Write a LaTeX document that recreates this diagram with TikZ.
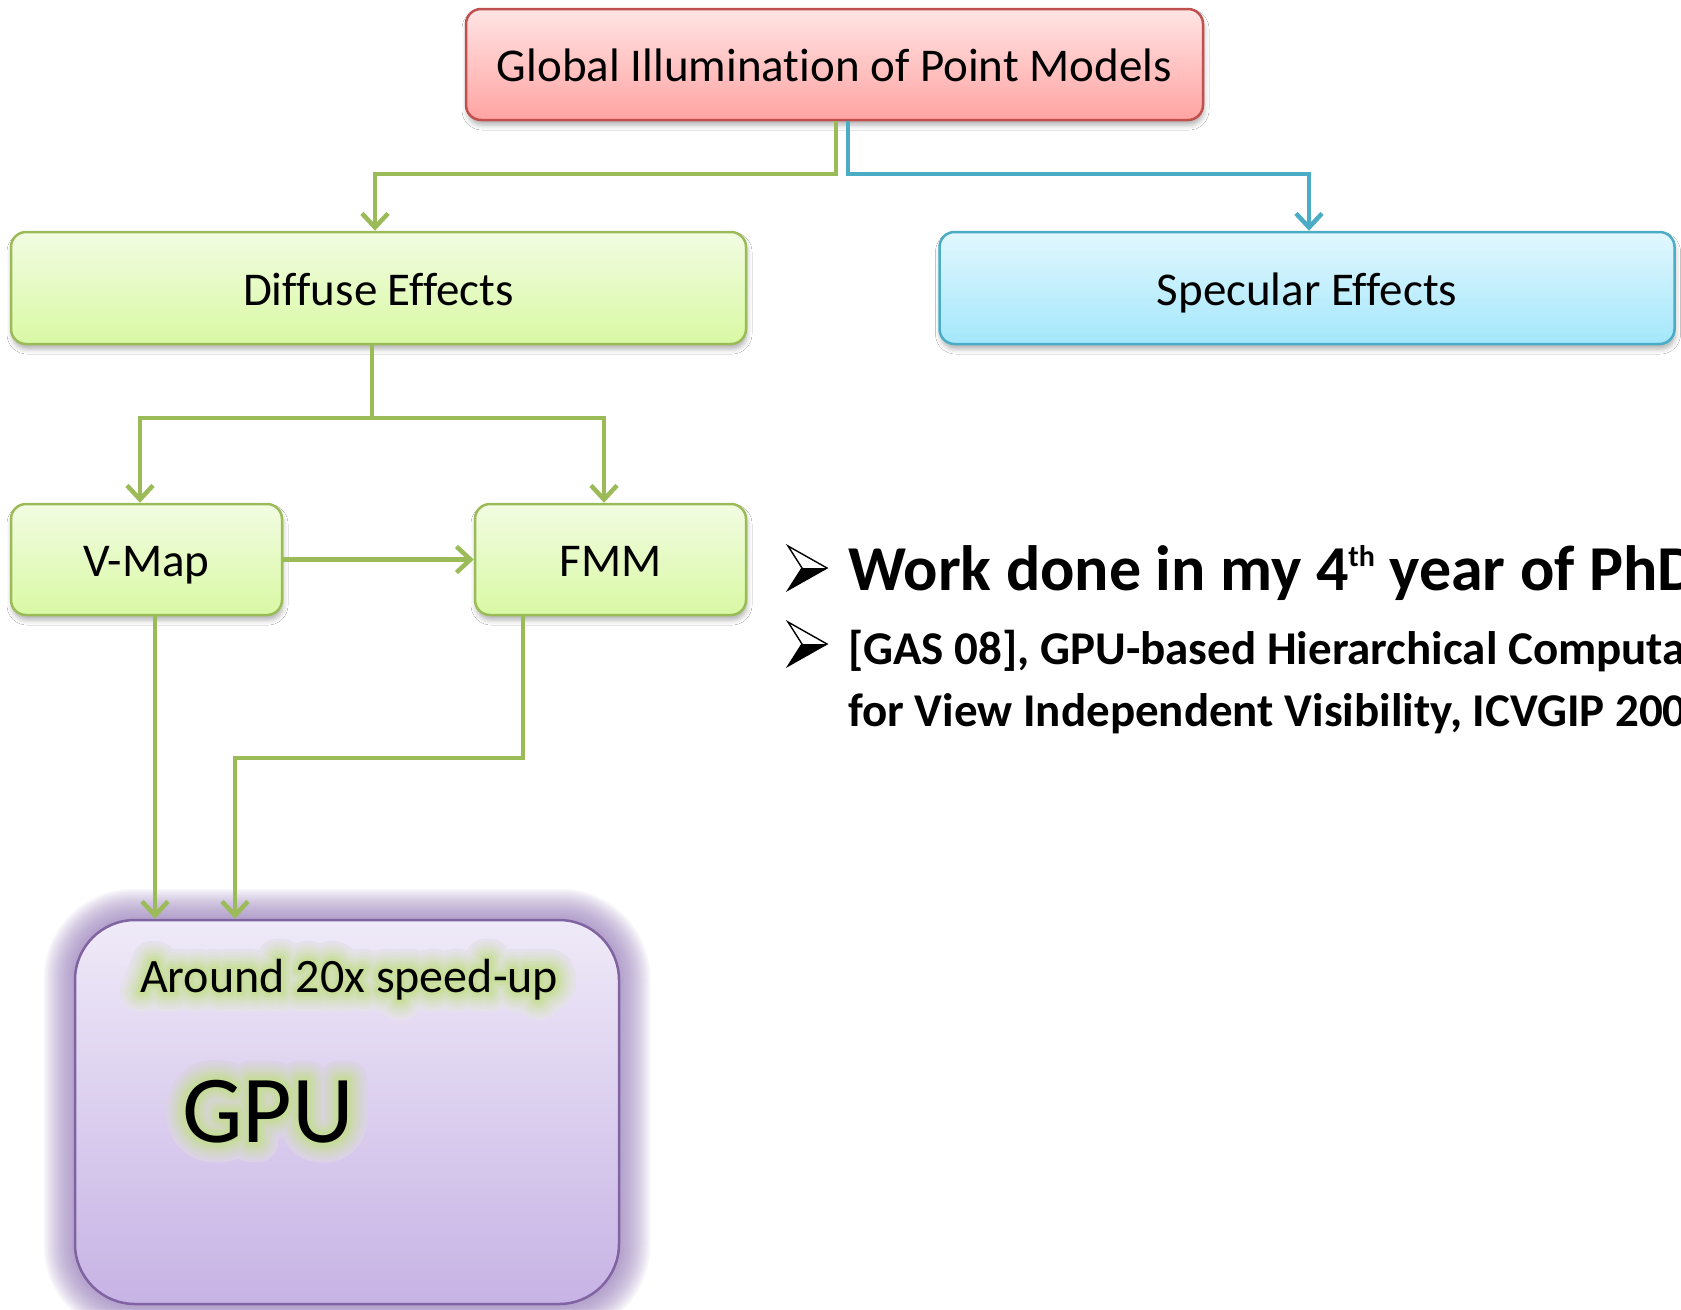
\documentclass[tikz,border=0pt]{standalone}
\usepackage{fontspec}
\setmainfont{Carlito}[Ligatures=NoCommon]
\usetikzlibrary{arrows.meta,shadows.blur,backgrounds,calc}

\definecolor{rootline}{HTML}{C0504D}
\definecolor{roottop}{HTML}{FFE4E4}
\definecolor{rootbot}{HTML}{FFA4A2}
\definecolor{greenline}{HTML}{9BBB59}
\definecolor{greentop}{HTML}{F2FCE2}
\definecolor{greenbot}{HTML}{D9F9A4}
\definecolor{blueline}{HTML}{4BACC6}
\definecolor{bluetop}{HTML}{E2F7FE}
\definecolor{bluebot}{HTML}{A4E7FB}
\definecolor{purpline}{HTML}{8064A2}
\definecolor{purptop}{HTML}{EFEAF8}
\definecolor{purpbot}{HTML}{C7B3E5}
\definecolor{purpglow}{HTML}{9A82BE}
\definecolor{textglow}{HTML}{C4DD8E}
\definecolor{upperbg}{HTML}{E9E2F5}
\definecolor{middlebg}{HTML}{DDD2EF}

\tikzset{
  box/.style={rounded corners=15pt, line width=2.5pt, inner sep=0pt,
    font=\fontsize{47}{56}\selectfont, text height=44pt, text depth=10pt,
    blur shadow={shadow xshift=1pt, shadow yshift=-5pt,
      shadow blur radius=5pt, shadow opacity=30}},
  rootbox/.style={box, draw=rootline, top color=roottop, bottom color=rootbot,
    minimum width=737pt, minimum height=111pt},
  greenbox/.style={box, draw=greenline, top color=greentop, bottom color=greenbot},
  bluebox/.style={box, draw=blueline, top color=bluetop, bottom color=bluebot},
  widebox/.style={minimum width=735pt, minimum height=112pt},
  smallbox/.style={minimum width=271pt, minimum height=111pt},
  gpubox/.style={rounded corners=60pt, line width=2.5pt, draw=purpline,
    top color=purptop, bottom color=purpbot,
    minimum width=544pt, minimum height=384pt, inner sep=0pt},
  link/.style={line width=4.5pt, draw=greenline,
    -{Straight Barb[length=14pt,width=26pt]}},
  bluelink/.style={link, draw=blueline},
  bigline/.style={anchor=base west, inner sep=0pt,
    font=\bfseries\fontsize{64}{77}\selectfont},
  refline/.style={anchor=base west, inner sep=0pt,
    font=\bfseries\fontsize{47}{57}\selectfont},
  arrowbullet/.pic={
    \fill[black] (14,22) -- (39,22) -- (0,44) -- cycle;
    \draw[black, line width=1.4pt, line join=miter]
      (0,0) -- (39,22) -- (0,44) -- (14,22) -- cycle;
  }
}

% stroked copy of a text, used to build the soft halo
\newcommand\strokedText[2]{%
  \special{pdf:literal direct 1 Tr #1 w 1 J 1 j}#2\special{pdf:literal direct 0 Tr 1 w}}

% text with a soft green halo behind it: #1 name, #2 position,
% #3 font size, #4 colour behind, #5 text
\newcommand\haloLabel[5]{%
  \foreach \w/\m [count=\k] in {40/10,34/20,28/32,22/45,16/60,10/75,5/88}{%
    \node[text=textglow!\m!#4, anchor=base west, inner sep=0pt,
      font=\fontsize{#3}{#3}\selectfont] (#1-\k) at (#2) {\strokedText{\w}{#5}};
  }%
  \node[anchor=base west, inner sep=0pt, font=\fontsize{#3}{#3}\selectfont]
    (#1) at (#2) {#5};%
}

\begin{document}
\begin{tikzpicture}[x=1pt, y=-1pt]
\useasboundingbox (0,0) rectangle (1681,1309);

% boxes
\node[rootbox] (root) at (834.5,64.5) {Global Illumination of Point Models};
\node[greenbox, widebox] (diffuse) at (378.5,288) {Diffuse Effects};
\node[bluebox, widebox] (specular) at (1307,288) {Specular Effects};
\node[greenbox, smallbox] (vmap) at (146.5,559.5) {V-Map};
\node[greenbox, smallbox] (fmm) at (610.5,559.5) {FMM};
\node[gpubox] (gpu) at (347,1112) {};

% page colour and the purple halo round the GPU box
\begin{scope}[on background layer]
  \fill[white] (0,0) rectangle (1681,1309);
  \foreach \g in {2,4,...,30}{
    \pgfmathsetmacro\rr{60+\g}
    \fill[purpglow, opacity=0.075, rounded corners=\rr pt]
      ($(gpu.north west)+(-\g,-\g)$) rectangle ($(gpu.south east)+(\g,\g)$);
  }
\end{scope}

% connectors
\draw[link] (836,0 |- root.south) |- (375,174) -- (375,0 |- diffuse.north);
\draw[bluelink] (848,0 |- root.south) |- (1309,174) -- (1309,0 |- specular.north);

\coordinate (split) at (372,418);
\draw[link] (372,0 |- diffuse.south) -- (split) -| (140,0 |- vmap.north);
\draw[link] (split) -| (604,0 |- fmm.north);
\draw[link] (vmap) -- (fmm);
\draw[link] (155,0 |- vmap.south) -- (155,0 |- gpu.north);
\draw[link] (523,0 |- fmm.south) |- (235,758) -- (235,0 |- gpu.north);

% labels inside the GPU box
\haloLabel{speedup}{140,992}{48}{upperbg}{Around 20x speed-up}
\haloLabel{gpulabel}{182,1142}{96}{middlebg}{GPU}

% bullet list
\pic at (788,546) {arrowbullet};
\node[bigline] (work) at (848,590)
  {Work done in my 4\raisebox{24pt}{\fontsize{30}{30}\selectfont th} year of PhD};
\pic at (788,622) {arrowbullet};
\node[refline] (gas) at (848,664) {[GAS 08], GPU-based Hierarchical Computation};
\node[refline] (venue) at (848,726) {for View Independent Visibility, ICVGIP 2008};
\end{tikzpicture}
\end{document}
